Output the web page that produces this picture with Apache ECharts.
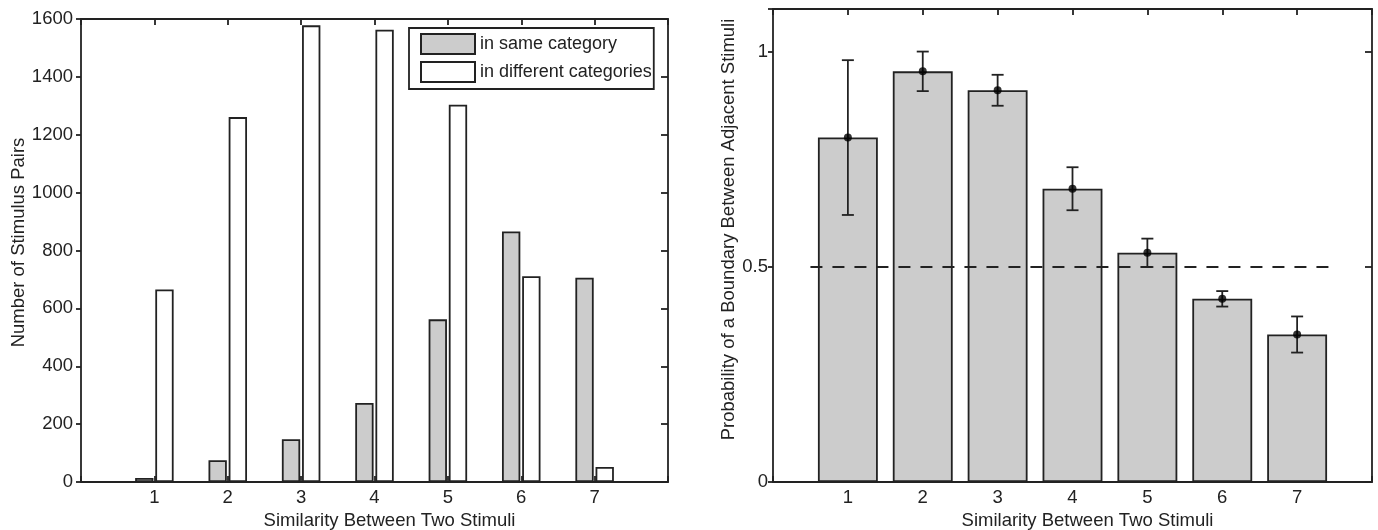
<!DOCTYPE html>
<html>
<head>
<meta charset="utf-8">
<title>Similarity and category boundaries</title>
<script src="https://cdn.jsdelivr.net/npm/echarts@6/dist/echarts.min.js"></script>
<style>
  html, body { margin: 0; padding: 0; background: #fff; }
  #chart { width: 1378px; height: 530px; }
</style>
</head>
<body>
<div id="chart"></div>
<script>
// Similarity levels shared by both panels
const similarity = [1, 2, 3, 4, 5, 6, 7];

// Left panel: counts of stimulus pairs
const sameCategoryPairs = [14, 75, 148, 273, 562, 866, 706];
const differentCategoryPairs = [665, 1261, 1578, 1563, 1304, 711, 52];
const countTicks = [0, 200, 400, 600, 800, 1000, 1200, 1400, 1600];

// Right panel: boundary probability with error ranges
const boundaryProb = [0.801, 0.955, 0.911, 0.682, 0.533, 0.426, 0.343];
const boundaryErr = [0.180, 0.046, 0.036, 0.050, 0.033, 0.018, 0.042];
const probTicks = [0, 0.5, 1];
const probAxisMax = 1.1;
const chanceLevel = 0.5;
const chanceSpan = [0.5, 7.5];

const ink = '#222';
const grayFill = '#cccccc';
const font = 'Liberation Sans, Arial, Helvetica, sans-serif';
const fs = 18.5;
const lw = 1.8;

const chart = echarts.init(document.getElementById('chart'), null, { renderer: 'canvas' });

const xy = arr => similarity.map((s, i) => [s, arr[i]]);

function bottomX(gridIndex, name, namePad) {
  return {
    type: 'value', gridIndex, min: 0, max: 8, interval: 1,
    name, nameLocation: 'middle', nameGap: 28,
    nameTextStyle: { fontFamily: font, fontSize: fs, color: ink, padding: namePad },
    axisLine: { show: true, onZero: false, lineStyle: { color: ink, width: lw } },
    axisTick: { show: true, inside: true, length: 6, lineStyle: { color: ink, width: lw } },
    axisLabel: {
      fontFamily: font, fontSize: fs, color: ink, margin: 6,
      formatter: v => (similarity.indexOf(v) >= 0 ? String(v) : '')
    },
    splitLine: { show: false }
  };
}
function topX(gridIndex) {
  return {
    type: 'value', gridIndex, position: 'top', min: 0, max: 8, interval: 1,
    axisLine: { show: true, onZero: false, lineStyle: { color: ink, width: lw } },
    axisTick: { show: true, inside: true, length: 6, lineStyle: { color: ink, width: lw } },
    axisLabel: { show: false }, splitLine: { show: false }
  };
}
function leftY(gridIndex, ticks, max, name, nameGap, namePad, labelMargin) {
  return {
    type: 'value', gridIndex, min: ticks[0], max, interval: ticks[1] - ticks[0],
    name, nameLocation: 'middle', nameGap, nameRotate: 90,
    nameTextStyle: { fontFamily: font, fontSize: fs, color: ink, padding: namePad },
    axisLine: { show: true, onZero: false, lineStyle: { color: ink, width: lw } },
    axisTick: { show: true, inside: false, length: 5, lineStyle: { color: ink, width: lw } },
    axisLabel: {
      fontFamily: font, fontSize: fs, color: ink, margin: labelMargin,
      formatter: v => (ticks.indexOf(v) >= 0 ? String(v) : '')
    },
    splitLine: { show: false }
  };
}
function rightY(gridIndex, ticks, max) {
  return {
    type: 'value', gridIndex, position: 'right', min: ticks[0], max, interval: ticks[1] - ticks[0],
    axisLine: { show: true, onZero: false, lineStyle: { color: ink, width: lw } },
    axisTick: { show: true, inside: true, length: 7, lineStyle: { color: ink, width: lw } },
    axisLabel: { show: false }, splitLine: { show: false }
  };
}

const option = {
  animation: false,
  backgroundColor: '#fff',
  textStyle: { fontFamily: font },
  grid: [
    { left: 81, top: 19, width: 587, height: 463, containLabel: false, outerBoundsMode: 'none' },
    { left: 773, top: 9, width: 599, height: 473, containLabel: false, outerBoundsMode: 'none' }
  ],
  legend: {
    orient: 'vertical', left: 409, top: 28,
    itemWidth: 54, itemHeight: 20, itemGap: 6,
    padding: [5, 2, 6, 11],
    borderColor: ink, borderWidth: lw, backgroundColor: '#fff',
    textStyle: { fontFamily: font, fontSize: 18, color: ink, lineHeight: 20 },
    data: [
      { name: 'in same category', icon: 'rect' },
      { name: 'in different categories', icon: 'rect' }
    ]
  },
  xAxis: [
    bottomX(0, 'Similarity Between Two Stimuli', [0, 0, 0, 30]),
    topX(0),
    bottomX(1, 'Similarity Between Two Stimuli', [0, 0, 0, 30]),
    topX(1)
  ],
  yAxis: [
    leftY(0, countTicks, countTicks[countTicks.length - 1], 'Number of Stimulus Pairs', 47, [0, 0, 0, 16], 8),
    rightY(0, countTicks, countTicks[countTicks.length - 1]),
    leftY(1, probTicks, probAxisMax, 'Probability of a Boundary Between Adjacent Stimuli', 31, [0, 0, 0, 32], 5),
    rightY(1, probTicks, probAxisMax)
  ],
  series: [
    {
      name: 'in same category', type: 'bar', xAxisIndex: 0, yAxisIndex: 0,
      barWidth: '25%', barGap: '10%',
      itemStyle: { color: grayFill, borderColor: ink, borderWidth: lw },
      data: xy(sameCategoryPairs)
    },
    {
      name: 'in different categories', type: 'bar', xAxisIndex: 0, yAxisIndex: 0,
      barWidth: '25%', barGap: '10%',
      itemStyle: { color: '#ffffff', borderColor: ink, borderWidth: lw },
      data: xy(differentCategoryPairs)
    },
    {
      name: 'boundary probability', type: 'bar', xAxisIndex: 2, yAxisIndex: 2,
      barWidth: '80%',
      itemStyle: { color: grayFill, borderColor: ink, borderWidth: lw },
      data: xy(boundaryProb),
      markLine: {
        silent: true, symbol: 'none', label: { show: false },
        lineStyle: { color: ink, width: 2, type: [12, 10] },
        data: [[
          { coord: [chanceSpan[0], chanceLevel] },
          { coord: [chanceSpan[1], chanceLevel] }
        ]]
      }
    },
    {
      name: 'error range', type: 'custom', xAxisIndex: 2, yAxisIndex: 2, z: 5,
      data: similarity.map((s, i) => [s, boundaryProb[i] - boundaryErr[i], boundaryProb[i] + boundaryErr[i]]),
      renderItem: (params, api) => {
        const lo = api.coord([api.value(0), api.value(1)]);
        const hi = api.coord([api.value(0), api.value(2)]);
        const cap = 6;
        const style = { stroke: ink, lineWidth: lw };
        return {
          type: 'group',
          children: [
            { type: 'line', shape: { x1: lo[0], y1: lo[1], x2: hi[0], y2: hi[1] }, style },
            { type: 'line', shape: { x1: lo[0] - cap, y1: lo[1], x2: lo[0] + cap, y2: lo[1] }, style },
            { type: 'line', shape: { x1: hi[0] - cap, y1: hi[1], x2: hi[0] + cap, y2: hi[1] }, style }
          ]
        };
      }
    },
    {
      name: 'mean', type: 'scatter', xAxisIndex: 2, yAxisIndex: 2, z: 6,
      symbol: 'circle', symbolSize: 8,
      itemStyle: { color: '#000' },
      data: xy(boundaryProb)
    }
  ]
};

chart.setOption(option);
</script>
</body>
</html>
